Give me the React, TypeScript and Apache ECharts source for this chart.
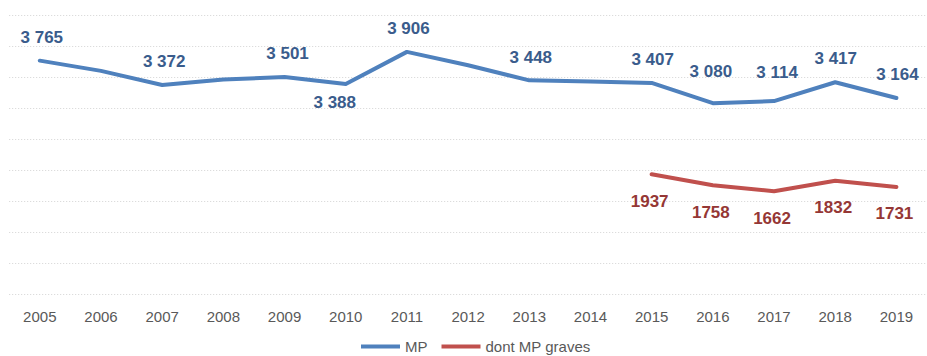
import React, { useEffect, useRef } from "react";
import * as echarts from "echarts";

const years = ["2005","2006","2007","2008","2009","2010","2011","2012","2013","2014","2015","2016","2017","2018","2019"];
const mpValues = [3765, 3600, 3372, 3460, 3501, 3388, 3906, 3690, 3448, 3430, 3407, 3080, 3114, 3417, 3164];
const gravesValues: (number | null)[] = [null, null, null, null, null, null, null, null, null, null, 1937, 1758, 1662, 1832, 1731];
const mpLabelled = [true, false, true, false, true, true, true, false, true, false, true, true, true, true, true];
const yTicks = { min: 0, max: 4500, interval: 500 };

// label offsets (styling), per point
const mpLabelOffsets: [number, number][] = [
  [2, -23], [0, 0], [2, -23.4], [0, 0], [3, -23.4], [-11, 18], [1.5, -23.4], [0, 0],
  [1.5, -23.3], [0, 0], [1, -23.5], [-2, -32], [3, -28.4], [0.5, -24], [1, -23],
];
const gravesLabelOffset: [number, number] = [-2, 27];

const FONT = "'Liberation Sans', Arial, sans-serif";
const BLUE = "#4F81BD";
const RED = "#C0504D";
const BLUE_LABEL = "#3A5C8C";
const RED_LABEL = "#953735";

const fmtSpace = (v: number) => {
  const s = String(Math.round(v));
  return s.replace(/\B(?=(\d{3})+(?!\d))/g, " ");
};

export default function App() {
  const ref = useRef<HTMLDivElement>(null);
  useEffect(() => {
    if (!ref.current) return;
    const chart = echarts.init(ref.current, undefined, { renderer: "svg" });
    chart.setOption({
      animation: false,
      backgroundColor: "#ffffff",
      textStyle: { fontFamily: FONT },
      grid: { left: 9.2, right: -5.8, top: 15, bottom: 61.5, containLabel: false },
      xAxis: {
        type: "category",
        data: years,
        boundaryGap: true,
        axisLine: { show: false },
        axisTick: { show: false },
        axisLabel: { color: "#595959", fontSize: 15, margin: 14, fontFamily: FONT },
        splitLine: { show: false },
      },
      yAxis: {
        type: "value",
        min: yTicks.min,
        max: yTicks.max,
        interval: yTicks.interval,
        axisLine: { show: false },
        axisTick: { show: false },
        axisLabel: { show: false },
        splitLine: { show: true, lineStyle: { color: "#D4D4D4", width: 1, type: [1, 2] } },
      },
      legend: {
        left: 361,
        top: 339,
        padding: 0,
        icon: "rect",
        itemWidth: 39,
        itemHeight: 4,
        itemGap: 14,
        textStyle: { color: "#595959", fontSize: 15, fontFamily: FONT },
        data: [
          { name: "MP", itemStyle: { color: BLUE } },
          { name: "dont MP graves", itemStyle: { color: RED } },
        ],
      },
      series: [
        {
          name: "MP",
          type: "line",
          data: mpValues.map((v, i) => ({
            value: v,
            label: {
              show: mpLabelled[i],
              offset: mpLabelOffsets[i],
            },
          })),
          symbol: "circle",
          symbolSize: 2,
          itemStyle: { color: BLUE },
          lineStyle: { color: BLUE, width: 4, cap: "round", join: "round" },
          label: {
            show: true,
            position: "inside",
            color: BLUE_LABEL,
            fontSize: 17,
            fontWeight: "bold",
            fontFamily: FONT,
            formatter: (p: any) => fmtSpace(p.value),
          },
        },
        {
          name: "dont MP graves",
          type: "line",
          data: gravesValues,
          symbol: "circle",
          symbolSize: 2,
          connectNulls: false,
          itemStyle: { color: RED },
          lineStyle: { color: RED, width: 4, cap: "round", join: "round" },
          label: {
            show: true,
            position: "inside",
            offset: gravesLabelOffset,
            color: RED_LABEL,
            fontSize: 17,
            fontWeight: "bold",
            fontFamily: FONT,
            formatter: (p: any) => String(p.value),
          },
        },
      ],
    });
    return () => chart.dispose();
  }, []);
  return (
    <div
      ref={ref}
      style={{ position: "absolute", left: 0, top: 0, width: 927, height: 356, background: "#fff" }}
    />
  );
}
